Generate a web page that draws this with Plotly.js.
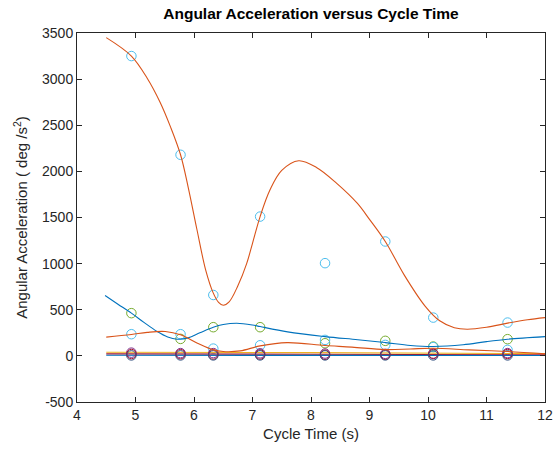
<!DOCTYPE html>
<html>
<head>
<meta charset="utf-8">
<script src="https://cdn.plot.ly/plotly-3.0.1.min.js"></script>
<style>html,body{margin:0;padding:0;background:#fff;}#chart{width:558px;height:451px;}</style>
</head>
<body>
<div id="chart"></div>
<script>
// Measured data (circles)
const cycleTime   = [4.93, 5.77, 6.33, 7.13, 8.24, 9.27, 10.09, 11.36];
const accelMain   = [3250, 2180, 660, 1510, 1005, 1240, 415, 361];
const accelGreen  = [463, 184, 311, 311, 137, 163, 101, 181];
const accelCyan   = [235, 235, 79, 115, 173, 119, 95, 65];
const accelPurple = [35, 30, 30, 28, 25, 22, 20, 30];
const accelDarkRed= [20, 18, 15, 15, 12, 12, 25, 20];
const accelBlue   = [5, 5, 5, 5, 5, 5, 5, 5];

// Fitted curves
const fitMainX  = [4.5, 4.93, 5.2, 5.42, 5.6, 5.77, 5.9, 6.05, 6.2, 6.33, 6.42, 6.5, 6.6, 6.75, 6.9, 7.0, 7.13, 7.3, 7.5, 7.79, 8.1, 8.44, 8.79, 9.0, 9.27, 9.6, 9.95, 10.2, 10.45, 10.67, 11.0, 11.36, 11.7, 12];
const fitMainY  = [3450, 3250, 3010, 2750, 2480, 2180, 1830, 1370, 930, 680, 580, 548, 585, 760, 1000, 1220, 1510, 1800, 2010, 2115, 2040, 1870, 1655, 1480, 1240, 870, 540, 380, 305, 289, 310, 355, 392, 415];
const fitGreenX = [4.48, 4.7, 4.93, 5.15, 5.37, 5.55, 5.71, 5.9, 6.1, 6.33, 6.5, 6.73, 7.0, 7.13, 7.6, 8.24, 8.8, 9.27, 9.7, 10.09, 10.6, 11.0, 11.36, 12];
const fitGreenY = [654, 560, 463, 360, 264, 205, 181, 195, 250, 311, 340, 354, 335, 318, 260, 209, 175, 144, 112, 101, 120, 155, 181, 209];
const fitCyanX  = [4.5, 4.93, 5.2, 5.51, 5.77, 6.05, 6.33, 6.5, 6.79, 7.13, 7.59, 8.24, 8.7, 9.27, 9.7, 10.09, 10.7, 11.36, 12];
const fitCyanY  = [203, 232, 255, 264, 228, 140, 65, 47, 54, 108, 144, 112, 95, 68, 75, 82, 65, 47, 22];
const fitLowX   = [4.5, 8, 12];
const fitYellowY= [40, 35, 25];
const fitRedY   = [22, 18, 12];
const fitBlueY  = [6, 5, 4];

const xTicks = [4, 5, 6, 7, 8, 9, 10, 11, 12];
const yTicks = [-500, 0, 500, 1000, 1500, 2000, 2500, 3000, 3500];

const C = {blue:'#0072BD', orange:'#D95319', yellow:'#EDB120', purple:'#7E2F8E', green:'#77AC30', cyan:'#4DBEEE', darkred:'#A2142F'};

function pts(y, color){
  return {x: cycleTime, y: y, type:'scatter', mode:'markers',
    marker:{symbol:'circle-open', size:9.5, color:color, line:{width:1, color:color}}, hoverinfo:'skip'};
}
function fit(x, y, color){
  return {x: x, y: y, type:'scatter', mode:'lines',
    line:{shape:'spline', smoothing:1, color:color, width:1.1}, hoverinfo:'skip'};
}

const traces = [
  pts(accelMain, C.cyan),
  pts(accelGreen, C.green),
  pts(accelCyan, C.cyan),
  fit(fitLowX, fitYellowY, C.yellow),
  fit(fitLowX, fitRedY, C.darkred),
  fit(fitLowX, fitBlueY, C.blue),
  pts(accelPurple, C.purple),
  pts(accelDarkRed, C.darkred),
  pts(accelBlue, '#2f4f7f'),
  fit(fitMainX, fitMainY, C.orange),
  fit(fitGreenX, fitGreenY, C.blue),
  fit(fitCyanX, fitCyanY, C.orange)
];

const axisCommon = {
  showgrid:false, zeroline:false, showline:true, linecolor:'#262626', linewidth:1,
  mirror:'ticks', ticks:'inside', ticklen:5, tickcolor:'#262626',
  tickfont:{family:'Liberation Sans, Arial, sans-serif', size:14, color:'#262626'},
  automargin:false
};

const layout = {
  width:558, height:451,
  margin:{l:77, r:13, t:33, b:49},
  paper_bgcolor:'#fff', plot_bgcolor:'#fff',
  showlegend:false,
  title:{text:'<b>Angular Acceleration versus Cycle Time</b>', x:0.5, xref:'paper', xanchor:'center',
    y:1-14/451, yref:'container', yanchor:'middle',
    font:{family:'Liberation Sans, Arial, sans-serif', size:15.5, color:'#000'}},
  xaxis:Object.assign({}, axisCommon, {range:[4,12], tickvals:xTicks, ticktext:xTicks.map(String),
    title:{text:'Cycle Time (s)', standoff:6, font:{family:'Liberation Sans, Arial, sans-serif', size:15, color:'#262626'}}}),
  yaxis:Object.assign({}, axisCommon, {range:[-500,3500], tickvals:yTicks, ticktext:yTicks.map(String),
    title:{text:'Angular Acceleration ( deg /s<sup>2</sup>)', standoff:10, font:{family:'Liberation Sans, Arial, sans-serif', size:15, color:'#262626'}}})
};

Plotly.newPlot('chart', traces, layout, {staticPlot:true, displayModeBar:false});
</script>
</body>
</html>
